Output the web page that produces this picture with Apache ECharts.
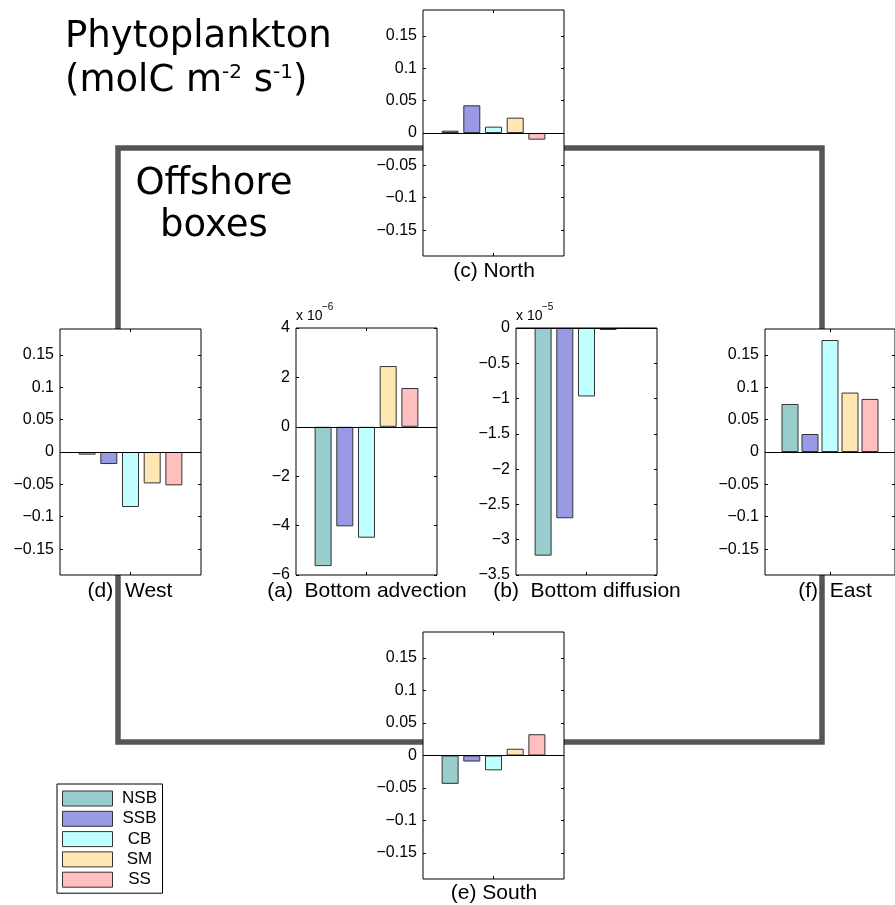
<!DOCTYPE html>
<html>
<head>
<meta charset="utf-8">
<script src="https://cdn.jsdelivr.net/npm/echarts@6/dist/echarts.min.js"></script>
<style>
html,body{margin:0;padding:0;background:#fff;}
#chart{width:895px;height:905px;}
</style>
</head>
<body>
<div id="chart"></div>
<script>
// ---- data ----
const categories = ['NSB', 'SSB', 'CB', 'SM', 'SS'];
const colors = ['#99CCCC', '#9999E6', '#BFFFFF', '#FFE6B3', '#FFBFBF'];
const northValues = [0.0036, 0.0428, 0.0098, 0.0237, -0.0103];
const westValues = [-0.0041, -0.0186, -0.085, -0.0485, -0.0515];
const eastValues = [0.0742, 0.0278, 0.173, 0.0918, 0.082];
const southValues = [-0.0436, -0.0093, -0.0228, 0.0104, 0.0327];
const advectionValues = [-5.64, -4.03, -4.49, 2.46, 1.57];     // x 10^-6
const diffusionValues = [-3.226, -2.696, -0.97, -0.028, -0.012]; // x 10^-5
const boundaryTicks = [-0.15, -0.1, -0.05, 0, 0.05, 0.1, 0.15];

const FONT = '"Liberation Sans", Arial, Helvetica, sans-serif';
const TITLEFONT = '"DejaVu Sans", sans-serif';

const panels = [
  {key: 'c', values: northValues, left: 423, top: 10, height: 246, min: -0.19, max: 0.19, ticks: boundaryTicks},
  {key: 'd', values: westValues, left: 60, top: 329, height: 246, min: -0.19, max: 0.19, ticks: boundaryTicks},
  {key: 'a', values: advectionValues, left: 296, top: 328, height: 247, min: -6, max: 4, interval: 2},
  {key: 'b', values: diffusionValues, left: 516, top: 328, height: 247, min: -3.5, max: 0, interval: 0.5},
  {key: 'f', values: eastValues, left: 765, top: 329, height: 246, min: -0.19, max: 0.19, ticks: boundaryTicks},
  {key: 'e', values: southValues, left: 423, top: 632, height: 247, min: -0.19, max: 0.19, ticks: boundaryTicks}
];

function fmt(v) {
  const s = String(+(+v).toFixed(4));
  return s.replace('-', '\u2212');
}

const grid = [], xAxis = [], yAxis = [], series = [];
panels.forEach((p, gi) => {
  grid.push({left: p.left, top: p.top, width: 141, height: p.height, show: true,
    backgroundColor: '#fff', borderColor: '#000', borderWidth: 1, containLabel: false});
  ['bottom', 'top'].forEach(pos => {
    xAxis.push({gridIndex: gi, type: 'value', position: pos, min: -0.25, max: 6.25,
      axisLine: {show: false, onZero: false}, splitLine: {show: false},
      axisTick: {show: true, inside: true, length: 3, customValues: [3], lineStyle: {color: '#000'}},
      axisLabel: {show: false}});
  });
  ['left', 'right'].forEach(pos => {
    const ya = {gridIndex: gi, type: 'value', position: pos, min: p.min, max: p.max,
      axisLine: {show: false, onZero: false}, splitLine: {show: false},
      axisTick: {show: true, inside: true, length: 3, lineStyle: {color: '#000'}},
      axisLabel: {show: pos === 'left', margin: 6, color: '#000', fontSize: 16, fontFamily: FONT, formatter: fmt}};
    if (p.ticks) {
      ya.axisTick.customValues = p.ticks;
      ya.axisLabel.customValues = p.ticks;
    } else {
      ya.interval = p.interval;
    }
    yAxis.push(ya);
  });
  categories.forEach((name, i) => {
    const s = {name: name, type: 'bar', xAxisIndex: gi * 2, yAxisIndex: gi * 2,
      barWidth: 17, barGap: '-100%',
      data: [[i + 1, p.values[i]]],
      itemStyle: {color: colors[i], borderColor: '#333', borderWidth: 1},
      emphasis: {disabled: true}, silent: true, animation: false};
    if (i === 0) {
      s.markLine = {silent: true, symbol: ['none', 'none'], label: {show: false},
        lineStyle: {color: '#000', width: 1, type: 'solid'}, data: [{yAxis: 0}], animation: false};
    }
    series.push(s);
  });
});

function txt(text, x, y, size, align, family, extra) {
  return Object.assign({type: 'text', z: 100, x: x, y: y, silent: true,
    style: Object.assign({text: text, font: size + 'px ' + (family || FONT), fill: '#000',
      align: align || 'center', textAlign: align || 'center',
      verticalAlign: 'middle', textVerticalAlign: 'middle'}, extra || {})});
}

const graphic = [
  {type: 'rect', z: -10, silent: true, shape: {x: 118, y: 148, width: 704, height: 594},
    style: {fill: 'none', stroke: '#555', lineWidth: 5.5}},
  txt('Phytoplankton', 65, 37, 37, 'left', TITLEFONT),
  txt('(molC m{sup|-2} s{sup|-1})', 65, 81, 37, 'left', TITLEFONT,
    {rich: {sup: {fontSize: 20, fontFamily: 'DejaVu Sans', verticalAlign: 'top', fill: '#000'}}}),
  txt('Offshore', 214, 184, 37, 'center', TITLEFONT),
  txt('boxes', 214, 226, 37, 'center', TITLEFONT),
  txt('(c) North', 494, 271, 21),
  txt('(d)  West', 130, 591, 21),
  txt('(a)  Bottom advection', 367, 591, 21),
  txt('(b)  Bottom diffusion', 587, 591, 21),
  txt('(f)  East', 835, 591, 21),
  txt('(e) South', 494, 893, 21),
  txt('x 10', 296, 316, 14, 'left'),
  txt('\u22126', 322, 307, 10, 'left'),
  txt('x 10', 516, 316, 14, 'left'),
  txt('\u22125', 542, 307, 10, 'left')
];

const chart = echarts.init(document.getElementById('chart'), null, {renderer: 'canvas'});
chart.setOption({
  animation: false,
  backgroundColor: '#fff',
  grid: grid, xAxis: xAxis, yAxis: yAxis, series: series,
  legend: {
    data: categories, orient: 'vertical', left: 57, top: 784,
    itemWidth: 50, itemHeight: 15, itemGap: 3.3, itemTextGap: 11,
    padding: [6, 1, 5, 5], borderColor: '#000', borderWidth: 1, backgroundColor: '#fff',
    selectedMode: false, icon: 'rect',
    itemStyle: {borderColor: '#333', borderWidth: 1},
    formatter: name => '{c|' + name + '}',
    textStyle: {fontSize: 17, fontFamily: FONT, color: '#000',
      rich: {c: {width: 44, align: 'center', fontSize: 17, fontFamily: FONT, color: '#000', lineHeight: 17}}}
  },
  graphic: graphic
});
</script>
</body>
</html>
